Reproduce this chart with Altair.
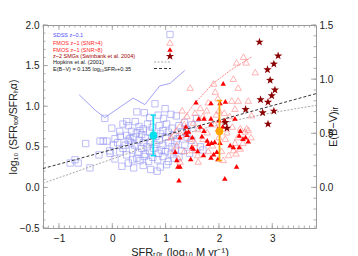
import altair as alt
import pandas as pd

# ---------------- data ----------------
sdss_pts = [
    (0.80, 1.03), (0.99, 0.97), (0.46, 0.93), (0.60, 0.92), (0.86, 0.89), (0.96, 0.85), (1.10, 0.90),
    (1.20, 0.88), (0.27, 0.81), (0.43, 0.81), (0.70, 0.86), (1.58, 0.85), (1.49, 0.77), (1.35, 0.80),
    (-0.14, 0.85),
    (-0.01, 0.73), (0.14, 0.69), (0.36, 0.69), (0.50, 0.75), (0.58, 0.72), (0.66, 0.78), (0.75, 0.74),
    (0.88, 0.76), (0.95, 0.70), (1.02, 0.78), (1.12, 0.73), (1.25, 0.76), (0.30, 0.76), (0.20, 0.78),
    (1.40, 0.71),
    (0.05, 0.60), (0.27, 0.64), (0.40, 0.62), (0.45, 0.67), (0.55, 0.65), (0.62, 0.61), (0.70, 0.68),
    (0.82, 0.63), (0.90, 0.66), (1.00, 0.62), (1.05, 0.68), (1.15, 0.64), (1.22, 0.60), (1.40, 0.62),
    (0.33, 0.60), (0.15, 0.63), (1.30, 0.68), (0.52, 0.70),
    (-0.50, 0.54), (-0.17, 0.57), (-0.23, 0.57), (-0.10, 0.57), (0.02, 0.52), (0.24, 0.52), (0.35, 0.55),
    (0.42, 0.52), (0.50, 0.58), (0.58, 0.55), (0.65, 0.50), (0.72, 0.56), (0.80, 0.53), (0.88, 0.58),
    (0.95, 0.52), (1.05, 0.55), (1.12, 0.50), (1.20, 0.57), (1.36, 0.52), (1.49, 0.58), (1.65, 0.50),
    (0.30, 0.58), (0.10, 0.55),
    (-0.04, 0.42), (0.14, 0.44), (0.27, 0.40), (0.38, 0.46), (0.48, 0.43), (0.55, 0.48), (0.62, 0.41),
    (0.70, 0.45), (0.78, 0.48), (0.86, 0.42), (0.92, 0.46), (1.00, 0.44), (1.10, 0.41), (1.18, 0.47),
    (1.30, 0.45), (0.20, 0.48), (-0.25, 0.40), (-0.05, 0.45), (1.45, 0.42), (1.70, 0.46),
    (-0.70, 0.34), (-0.79, 0.30), (-0.64, 0.30), (0.46, 0.36), (0.30, 0.30), (0.52, 0.33), (0.60, 0.38),
    (0.68, 0.32), (0.76, 0.37), (0.85, 0.34), (0.95, 0.38), (1.05, 0.32), (1.15, 0.36), (0.05, 0.35),
    (0.38, 0.34), (1.25, 0.38),
    (-0.42, 0.24), (0.18, 0.26), (0.40, 0.24), (0.58, 0.27), (0.72, 0.22), (0.90, 0.25), (1.02, 0.28),
    (0.84, 0.20),
]

fmos4_pts = [
    (2.46, 1.61), (2.33, 1.54), (2.51, 1.54), (2.68, 1.42), (2.27, 1.34), (2.36, 1.23), (1.46, 1.23),
    (1.90, 1.28), (1.93, 1.18), (2.36, 1.07), (2.55, 1.07), (2.24, 1.07), (1.80, 1.05), (1.31, 0.95),
    (1.77, 0.95), (2.00, 0.95), (2.30, 0.97), (2.61, 0.89), (2.40, 0.73), (2.52, 0.73), (2.55, 0.71),
    (2.49, 0.69), (2.27, 0.46), (2.32, 0.42), (2.08, 0.34), (1.21, 0.52), (1.24, 0.36), (1.49, 0.46),
    (1.40, 0.88), (1.55, 0.92), (1.65, 0.98), (1.70, 0.88), (1.95, 0.90), (2.10, 0.92), (2.20, 0.88),
    (1.35, 0.78), (1.52, 0.80), (1.60, 0.72), (1.78, 0.68), (1.92, 0.78), (2.15, 0.68), (2.25, 0.75),
    (2.35, 0.62), (2.45, 0.55), (2.60, 0.62), (1.30, 0.65), (1.45, 0.60), (1.70, 0.60), (1.88, 0.52),
    (2.12, 0.60), (2.30, 0.55), (1.35, 0.45), (1.60, 0.40), (1.80, 0.45), (2.05, 0.45), (2.18, 0.40),
    (2.40, 0.48), (1.20, 0.70), (1.10, 0.62), (1.15, 0.45), (1.55, 0.55), (2.00, 0.62), (1.98, 1.10),
    (1.27, 0.32), (1.61, 0.32),
]

fmos8_pts = [
    (1.57, 1.05), (1.85, 1.04), (2.02, 1.04), (2.12, 1.06), (2.08, 1.28), (1.62, 0.85), (1.72, 0.85),
    (1.85, 0.85), (2.00, 0.83), (2.10, 0.83), (2.30, 0.85), (1.38, 0.75), (1.65, 0.75), (1.72, 0.70),
    (1.85, 0.78), (1.98, 0.72), (2.07, 0.75), (1.27, 0.62), (1.40, 0.65), (1.43, 0.69), (1.49, 0.50),
    (1.18, 0.44), (1.47, 0.35), (1.27, 0.26), (1.21, 0.34), (1.23, 0.26), (1.25, 0.09), (1.71, 0.40),
    (1.90, 0.41), (1.96, 0.44), (1.52, 0.48), (1.80, 0.54), (1.86, 0.55), (1.92, 0.56), (2.21, 0.52),
    (2.27, 0.50), (2.38, 0.50), (2.55, 0.57), (2.38, 0.64), (2.33, 0.26), (2.11, 0.11), (1.68, 0.63),
    (1.78, 0.58), (2.02, 0.55), (2.45, 0.60), (2.50, 0.62), (1.98, 0.35), (1.85, 0.37), (1.60, 0.45),
    (2.40, 0.70), (1.50, 0.62), (1.38, 0.68),
]

smg_pts = [
    (2.76, 1.79), (3.11, 1.62), (3.03, 1.52), (2.91, 1.45), (2.96, 1.32), (3.05, 1.20), (2.99, 1.13),
    (2.78, 1.08), (2.92, 1.05), (2.50, 0.96), (3.03, 0.94), (2.82, 0.92), (2.92, 0.78), (2.12, 0.80),
    (2.15, 0.73),
]

sdss_med_x = [-0.62, -0.32, -0.14, 0.39, 0.61, 0.89, 1.08, 1.36]
sdss_med_y = [1.14, 0.95, 0.86, 1.10, 1.02, 1.25, 1.28, 1.44]

fmos_med_x = [1.05, 1.27, 1.51, 1.89, 2.21, 2.62]
fmos_med_y = [0.58, 0.79, 1.01, 1.28, 1.44, 1.61]

hopkins_x = [-1.30, 0.00, 1.27, 2.21, 3.82]
hopkins_y = [0.05, 0.35, 0.64, 0.81, 1.01]

ebv_x = [-1.30, 3.82]
ebv_y = [0.1745, 0.8657]   # E(B-V) = 0.135 log SFR + 0.35 (right axis)

# sample means with their error ranges
avg_name = ["SDSS", "FMOS"]
avg_x = [0.77, 2.01]
avg_y = [0.64, 0.69]
avg_lo = [0.39, 0.33]
avg_hi = [0.89, 1.07]

x_major = [-1, 0, 1, 2, 3]
y_major = [-0.5, 0.0, 0.5, 1.0, 1.5, 2.0]
r_major = [0.0, 0.5, 1.0, 1.5]
x_minor = [round(-1.3 + 0.1 * i, 1) for i in range(52)]
y_minor = [round(-0.5 + 0.1 * i, 1) for i in range(26)]
r_minor = [round(-0.3 + 0.1 * i, 1) for i in range(19)]

leg_labels = ["SDSS z~0.1", "FMOS z~1 (SNR>4)", "FMOS z~1 (SNR>8)",
              "z~2 SMGs (Swinbank et al. 2004)", "Hopkins et al. (2001)",
              "E(B\u2212V) = 0.135 log\u2081\u2080SFR\u1d62\u1d63+0.35"]

# ---------------- styles ----------------
W, H = 273, 203
FONT = "Liberation Sans"
C_SDSS = "#8c8cf2"
C_SDSS_LINE = "#8a8af2"
C_F4 = "#ff7a7a"
C_F8 = "#ff0000"
C_SMG = "#8b0000"
C_TICK = "#9a9a9a"
avg_colors = ["#00dfee", "#ffa500"]
STAR = ("M0,-1L0.235,-0.324L0.951,-0.309L0.380,0.124L0.588,0.809L0,0.4L-0.588,0.809"
        "L-0.380,0.124L-0.951,-0.309L-0.235,-0.324Z")
leg_colors = ["#4d4dff", "#ff2020", "#ff2020", "#a00000", "#111111", "#111111"]
leg_rows = [9.5, 17.5, 24.5, 30.5, 37.0, 43.5]

xs = alt.Scale(domain=[-1.3, 3.82], nice=False, zero=False)
ys = alt.Scale(domain=[-0.5, 2.0], nice=False, zero=False)
rs = alt.Scale(domain=[-0.375, 1.5], nice=False, zero=False)

common_axis = dict(ticks=False, domain=False, grid=False, labelFontSize=10,
                   titleFontWeight="normal", labelFont=FONT, titleFont=FONT,
                   labelColor="#222222", titleColor="#222222")
x_axis = alt.Axis(values=x_major, format="d", title="SFR\u209c\u2092\u209c (log\u2081\u2080 M yr\u207b\u00b9)",
                  orient="bottom", labelPadding=5, titlePadding=3, titleFontSize=11, **common_axis)
y_axis = alt.Axis(values=y_major, format=".1f", title="log\u2081\u2080 (SFR\u209c\u2092\u209c/SFR\u2095\u03b1)",
                  orient="left", labelPadding=4, titlePadding=1, titleFontSize=10.5, **common_axis)
r_axis = alt.Axis(orient="right", values=r_major, format=".1f", title="E(B\u2212V)\u1d62\u1d63",
                  titleAngle=270, labelPadding=3, titlePadding=6, titleFontSize=11, **common_axis)


def df(pts):
    return pd.DataFrame(pts, columns=["x", "y"])


def X():
    return alt.X("x:Q", scale=xs, axis=x_axis)


def Y(field="y"):
    return alt.Y(f"{field}:Q", scale=ys, axis=y_axis)


sq = alt.Chart(df(sdss_pts)).mark_point(shape="square", size=40, filled=False, color=C_SDSS,
                                        strokeWidth=0.8).encode(x=X(), y=Y())
sdss_line = alt.Chart(pd.DataFrame({"x": sdss_med_x, "y": sdss_med_y})).mark_line(
    color=C_SDSS_LINE, strokeWidth=0.8).encode(x=X(), y=Y())
f4 = alt.Chart(df(fmos4_pts)).mark_point(shape="triangle-up", size=42, filled=False, color=C_F4,
                                         strokeWidth=0.8).encode(x=X(), y=Y())
fmos_line = alt.Chart(pd.DataFrame({"x": fmos_med_x, "y": fmos_med_y})).mark_line(
    color="#ff8a8a", strokeWidth=1, strokeDash=[2, 1]).encode(x=X(), y=Y())
hop = alt.Chart(pd.DataFrame({"x": hopkins_x, "y": hopkins_y})).mark_line(
    color="#a8a8a8", strokeWidth=1, strokeDash=[2, 1.5], interpolate="monotone").encode(x=X(), y=Y())
f8 = alt.Chart(df(fmos8_pts)).mark_point(shape="triangle-up", size=30, filled=True, color=C_F8,
                                         opacity=1).encode(x=X(), y=Y())
smg = alt.Chart(df(smg_pts)).mark_point(shape=STAR, size=75, filled=True, color=C_SMG,
                                        opacity=1).encode(x=X(), y=Y())


def xticks(vals, length):
    d = pd.DataFrame({"x": vals})
    bot = alt.Chart(d).mark_rule(color=C_TICK, strokeWidth=0.8).encode(
        x=X(), y=alt.value(H), y2=alt.value(H - length))
    top = alt.Chart(d).mark_rule(color=C_TICK, strokeWidth=0.8).encode(
        x=X(), y=alt.value(0), y2=alt.value(length))
    return [bot, top]


def yticks(vals, length):
    d = pd.DataFrame({"y": vals})
    return [alt.Chart(d).mark_rule(color=C_TICK, strokeWidth=0.8).encode(
        y=Y(), x=alt.value(0), x2=alt.value(length))]


legend_layers = []
dummy = pd.DataFrame({"a": [0]})
for lab, col, row in zip(leg_labels, leg_colors, leg_rows):
    legend_layers.append(alt.Chart(dummy).mark_text(
        align="left", baseline="middle", fontSize=5.5, font=FONT, color=col).encode(
        x=alt.value(10), y=alt.value(row), text=alt.value(lab)))
legend_layers += [
    alt.Chart(dummy).mark_point(shape="square", size=40, filled=False, color=C_SDSS, strokeWidth=0.8
                                ).encode(x=alt.value(127), y=alt.value(leg_rows[0])),
    alt.Chart(dummy).mark_point(shape="triangle-up", size=42, filled=False, color=C_F4, strokeWidth=0.8
                                ).encode(x=alt.value(127), y=alt.value(leg_rows[1])),
    alt.Chart(dummy).mark_point(shape="triangle-up", size=30, filled=True, color=C_F8, opacity=1
                                ).encode(x=alt.value(127), y=alt.value(leg_rows[2])),
    alt.Chart(dummy).mark_point(shape=STAR, size=75, filled=True, color=C_SMG, opacity=1
                                ).encode(x=alt.value(127), y=alt.value(leg_rows[3] + 0.8)),
    alt.Chart(dummy).mark_rule(color="#a8a8a8", strokeWidth=1, strokeDash=[2, 1.5]).encode(
        x=alt.value(111), x2=alt.value(128), y=alt.value(leg_rows[4])),
    alt.Chart(dummy).mark_rule(color="#333333", strokeWidth=1, strokeDash=[3, 2]).encode(
        x=alt.value(111), x2=alt.value(128), y=alt.value(leg_rows[5])),
]

left = alt.layer(
    sq, sdss_line, hop, f4, fmos_line, f8, smg,
    *xticks(x_minor, 2.5), *xticks(x_major, 5),
    *yticks(y_minor, 2.5), *yticks(y_major, 5),
    *legend_layers,
)


def R():
    return alt.Y("y:Q", scale=rs, axis=r_axis)


ebv = alt.Chart(pd.DataFrame({"x": ebv_x, "y": ebv_y})).mark_line(
    color="#333333", strokeWidth=1, strokeDash=[3, 2]).encode(x=X(), y=R())
rminor = alt.Chart(pd.DataFrame({"y": r_minor})).mark_rule(color=C_TICK, strokeWidth=0.8).encode(
    y=R(), x=alt.value(W), x2=alt.value(W - 2.5))
rmajor = alt.Chart(pd.DataFrame({"y": r_major})).mark_rule(color=C_TICK, strokeWidth=0.8).encode(
    y=R(), x=alt.value(W), x2=alt.value(W - 5))
right = alt.layer(ebv, rminor, rmajor)


# ---- means with error bars: own layer group, same fixed y domain, no axis ----
def EY(field):
    return alt.Y(f"{field}:Q", scale=ys, axis=None)


err_layers = []
for i, col in enumerate(avg_colors):
    d = pd.DataFrame({"x": [avg_x[i]], "y": [avg_y[i]], "lo": [avg_lo[i]], "hi": [avg_hi[i]]})
    err_layers += [
        alt.Chart(d).mark_rule(color=col, strokeWidth=1.7, opacity=1).encode(
            x=X(), y=EY("lo"), y2="hi:Q"),
        alt.Chart(d).mark_point(shape="stroke", size=30, strokeWidth=1.4, color=col, opacity=1
                                ).encode(x=X(), y=EY("lo")),
        alt.Chart(d).mark_point(shape="stroke", size=30, strokeWidth=1.4, color=col, opacity=1
                                ).encode(x=X(), y=EY("hi")),
        alt.Chart(d).mark_circle(size=60, color=col, opacity=1).encode(x=X(), y=EY("y")),
    ]
errs = alt.layer(*err_layers)

chart = alt.layer(left, right, errs).resolve_scale(y="independent").properties(
    width=W, height=H,
    autosize=alt.AutoSizeParams(type="none"),
    padding={"left": 35, "top": 17, "right": 34, "bottom": 32},
    background="white",
).configure_view(stroke="#9a9a9a", strokeWidth=1)

chart.save("out.html", embed_options={"renderer": "svg", "actions": False})
